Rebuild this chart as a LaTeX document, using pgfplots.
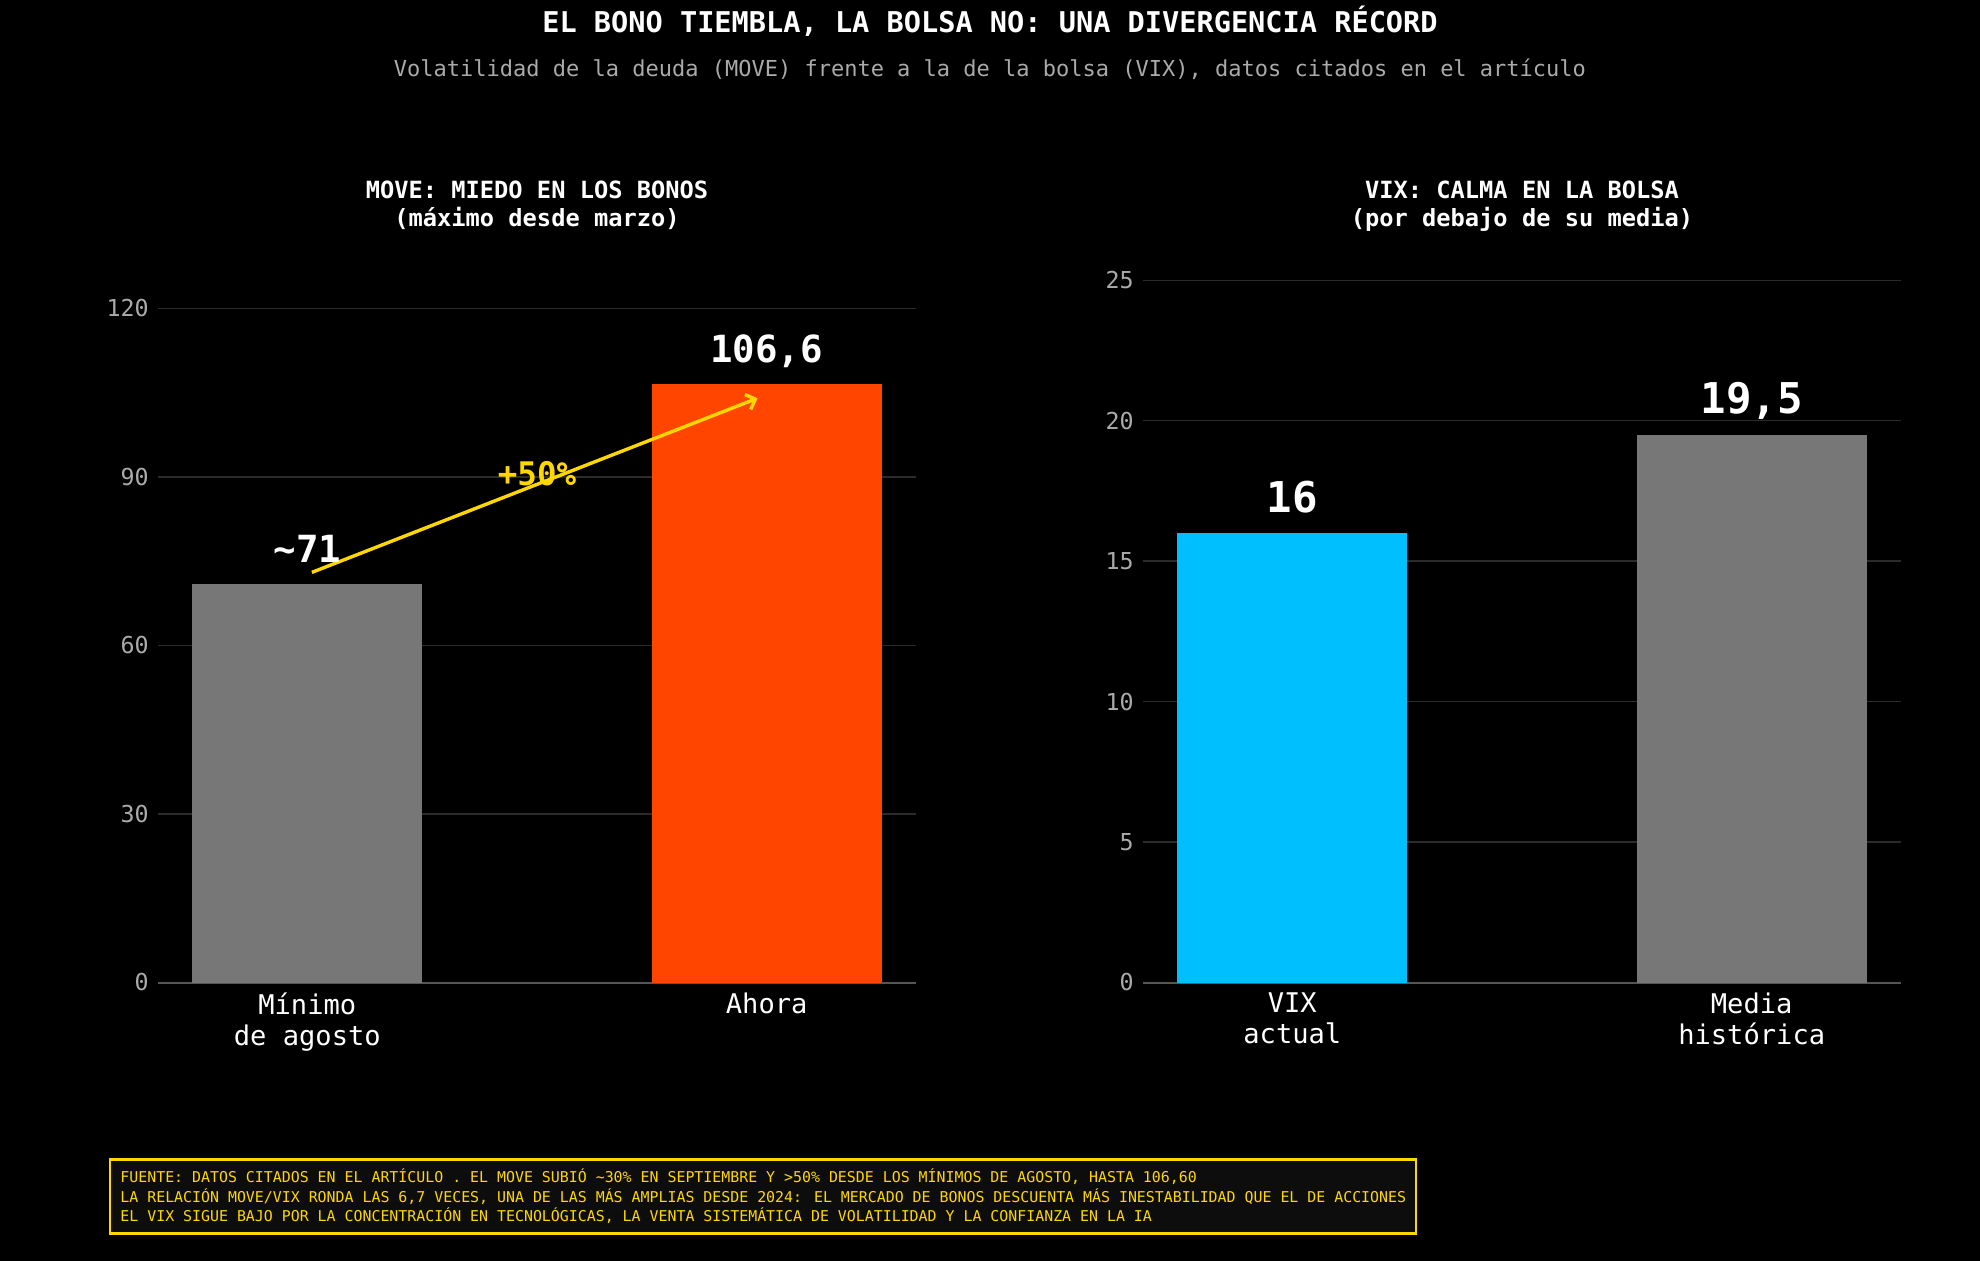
\documentclass[border=0pt]{standalone}
\usepackage{fontspec}
\setmainfont{DejaVu Sans Mono}
\usepackage{pgfplots}
\pgfplotsset{compat=1.18}
\usetikzlibrary{arrows.meta}

\definecolor{bggrid}{HTML}{2B2B2B}
\definecolor{spine}{HTML}{555555}
\definecolor{ticktxt}{HTML}{AAAAAA}
\definecolor{bargray}{HTML}{777777}
\definecolor{moveorange}{HTML}{FF4500}
\definecolor{vixblue}{HTML}{00BFFF}
\definecolor{gold}{HTML}{FFD700}
\definecolor{boxfill}{HTML}{0D0D0D}

% shared look of both panels
\pgfplotsset{
  panel/.style={
    scale only axis,
    width=379pt, height=368pt,
    anchor=south west,
    xmin=-0.325, xmax=1.325, ymin=0,
    ybar, bar width=0.5, bar shift=0pt,
    separate axis lines,
    axis x line*=bottom, axis y line*=left,
    x axis line style={draw=spine, line width=1pt, -},
    y axis line style={draw=none},
    major tick length=0pt,
    ymajorgrids, grid style={draw=bggrid, line width=0.65pt},
    xtick={0,1},
    /pgf/number format/assume math mode=true,
    yticklabel style={font=\fontsize{11.65}{13}\selectfont, text=ticktxt,
      inner sep=0pt, xshift=-4.5pt},
    xticklabel style={font=\fontsize{13.55}{15.5}\selectfont, text=white,
      align=center, anchor=north, inner sep=0pt, yshift=-5pt},
    point meta=explicit symbolic,
    nodes near coords,
    every node near coord/.append style={text=white, anchor=base,
      inner sep=0pt, yshift=10.5pt},
  },
}

\begin{document}
\begin{tikzpicture}
\path[use as bounding box] (0,0) rectangle (990pt,630pt);
\fill[black] (-5pt,-5pt) rectangle (995pt,635pt);

% titles
\node[anchor=base, text=white, font=\bfseries\fontsize{14.3}{16}\selectfont]
  at (495pt,613.85pt) {EL BONO TIEMBLA, LA BOLSA NO: UNA DIVERGENCIA RÉCORD};
\node[anchor=base, text=ticktxt, font=\fontsize{11}{13}\selectfont]
  at (495pt,591.5pt) {Volatilidad de la deuda (MOVE) frente a la de la bolsa (VIX), datos citados en el artículo};

\node[anchor=base, text=white, font=\bfseries\fontsize{11.85}{14}\selectfont]
  at (268.5pt,530.5pt) {MOVE: MIEDO EN LOS BONOS};
\node[anchor=base, text=white, font=\bfseries\fontsize{11.85}{14}\selectfont]
  at (268.5pt,516.5pt) {(máximo desde marzo)};
\node[anchor=base, text=white, font=\bfseries\fontsize{11.85}{14}\selectfont]
  at (761pt,530.5pt) {VIX: CALMA EN LA BOLSA};
\node[anchor=base, text=white, font=\bfseries\fontsize{11.85}{14}\selectfont]
  at (761pt,516.5pt) {(por debajo de su media)};

% MOVE panel
\begin{axis}[panel, at={(79pt,138.75pt)},
    ymax=131, ytick={0,30,60,90,120},
    xticklabels={{Mínimo\\de agosto},{Ahora}},
    every node near coord/.append style={font=\bfseries\fontsize{18.7}{20}\selectfont}]
\addplot[fill=bargray, draw=none] coordinates {(0,71) [\textasciitilde 71]};
\addplot[fill=moveorange, draw=none] coordinates {(1,106.6) [106,6]};
\draw[gold, line width=1.7pt, -{Straight Barb[length=4pt,width=8pt]}]
  (axis cs:0.01,73) -- (axis cs:0.98,104);
\node[anchor=base, text=gold, font=\bfseries\fontsize{16.25}{18}\selectfont, inner sep=0pt]
  at (axis cs:0.5,88.5) {+50\%};
\end{axis}

% VIX panel
\begin{axis}[panel, at={(571.5pt,138.75pt)},
    ymax=26.2, ytick={0,5,10,15,20,25},
    xticklabels={{VIX\\actual},{Media\\histórica}},
    every node near coord/.append style={font=\bfseries\fontsize{21.2}{23}\selectfont}]
\addplot[fill=vixblue, draw=none] coordinates {(0,16) [16]};
\addplot[fill=bargray, draw=none] coordinates {(1,19.5) [19,5]};
\end{axis}

% footer note
\draw[gold, line width=1.2pt, fill=boxfill] (55pt,13.35pt) rectangle (708pt,50.35pt);
\begin{scope}[every node/.style={anchor=base west, inner sep=0pt, text=gold,
    font=\fontsize{7.45}{9}\selectfont}]
\node at (60pt,38.65pt) {FUENTE: DATOS CITADOS EN EL ARTÍCULO . EL MOVE SUBIÓ \textasciitilde 30\% EN SEPTIEMBRE Y >50\% DESDE LOS MÍNIMOS DE AGOSTO, HASTA 106,60};
\node at (60pt,28.85pt) {LA RELACIÓN MOVE/VIX RONDA LAS 6,7 VECES, UNA DE LAS MÁS AMPLIAS DESDE 2024: EL MERCADO DE BONOS DESCUENTA MÁS INESTABILIDAD QUE EL DE ACCIONES};
\node at (60pt,19.15pt) {EL VIX SIGUE BAJO POR LA CONCENTRACIÓN EN TECNOLÓGICAS, LA VENTA SISTEMÁTICA DE VOLATILIDAD Y LA CONFIANZA EN LA IA};
\end{scope}
\end{tikzpicture}
\end{document}
